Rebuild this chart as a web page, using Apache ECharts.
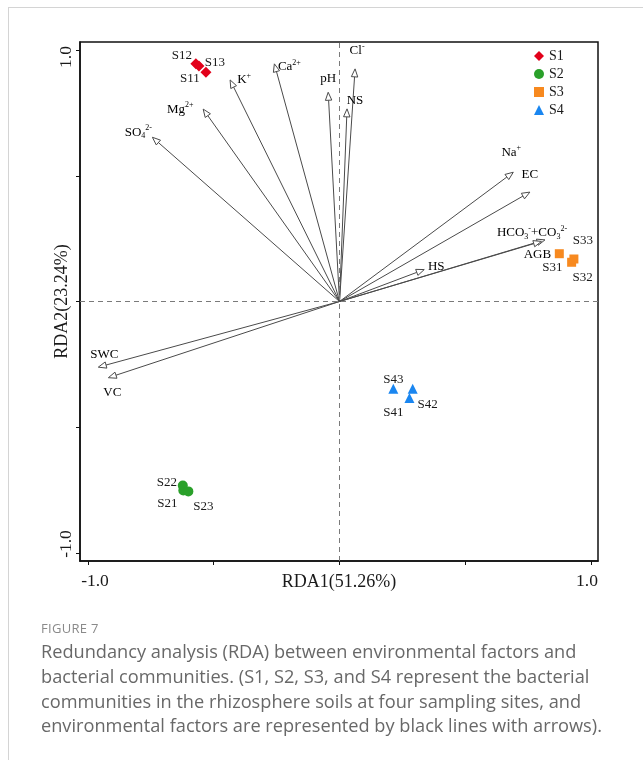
<!DOCTYPE html>
<html>
<head>
<meta charset="utf-8">
<script src="https://cdn.jsdelivr.net/npm/echarts@6/dist/echarts.min.js"></script>
<style>
  html, body { margin: 0; padding: 0; background: #fff; }
  #wrap { position: relative; width: 643px; height: 760px; overflow: hidden; }
  #frame { position: absolute; left: 8px; top: 7px; width: 700px; height: 800px;
           border-left: 1.5px solid #d4d4d4; border-top: 1.5px solid #d4d4d4; }
  #chart { position: absolute; left: 0; top: 0; width: 643px; height: 760px; }
  .cap { position: absolute; left: 41px; white-space: nowrap; font-family: "Open Sans", sans-serif; color: #686868; }
  #figno { top: 619px; font-size: 13px; letter-spacing: 0.3px; color: #8a8a8a; }
  .line { font-size: 18.2px; line-height: 25px; }
</style>
</head>
<body>
<div id="wrap">
  <div id="frame"></div>
  <div id="chart"></div>
  <div class="cap" id="figno">FIGURE 7</div>
  <div class="cap line" style="top:639px">Redundancy analysis (RDA) between environmental factors and</div>
  <div class="cap line" style="top:664px">bacterial communities. (S1, S2, S3, and S4 represent the bacterial</div>
  <div class="cap line" style="top:689px">communities in the rhizosphere soils at four sampling sites, and</div>
  <div class="cap line" style="top:713px">environmental factors are represented by black lines with arrows).</div>
</div>
<script>
// ---------------- DATA ----------------
const envNames = ['SO4 2-', 'Mg 2+', 'K+', 'Ca 2+', 'pH', 'Cl-', 'NS', 'Na+', 'EC', 'HCO3- + CO3 2-', 'AGB', 'HS', 'SWC', 'VC'];
const envRDA1 = [-0.744, -0.542, -0.435, -0.259, -0.045, 0.062, 0.030, 0.691, 0.757, 0.817, 0.803, 0.337, -0.959, -0.919];
const envRDA2 = [0.653, 0.765, 0.881, 0.945, 0.832, 0.925, 0.766, 0.514, 0.435, 0.245, 0.239, 0.127, -0.261, -0.303];

const siteNames = ['S1', 'S2', 'S3', 'S4'];
const sampleNames = [
  ['S11', 'S12', 'S13'],
  ['S21', 'S22', 'S23'],
  ['S31', 'S32', 'S33'],
  ['S41', 'S42', 'S43']
];
const sampleRDA1 = [
  [-0.531, -0.571, -0.559],
  [-0.621, -0.623, -0.601],
  [0.874, 0.923, 0.932],
  [0.278, 0.291, 0.214]
];
const sampleRDA2 = [
  [0.912, 0.945, 0.936],
  [-0.751, -0.732, -0.755],
  [0.190, 0.156, 0.169],
  [-0.384, -0.347, -0.347]
];
const xTicks = [-1, -0.5, 0, 0.5, 1];
const yTicks = [-1, -0.5, 0, 0.5, 1];
const xTickLabels = [-1, 1];
const yTickLabels = [-1, 1];
const xAxisName = 'RDA1(51.26%)';
const yAxisName = 'RDA2(23.24%)';

// ---------------- STYLE ----------------
const SERIF = '"Liberation Serif", "Times New Roman", serif';
const richMarkup = {
  'SO4 2-': '{b|SO}{sub|4}{sup|2-}',
  'Mg 2+': '{b|Mg}{sup|2+}',
  'K+': '{b|K}{sup|+}',
  'Ca 2+': '{b|Ca}{sup|2+}',
  'pH': '{b|pH}',
  'Cl-': '{b|Cl}{sup|-}',
  'NS': '{b|NS}',
  'Na+': '{b|Na}{sup|+}',
  'EC': '{b|EC}',
  'HCO3- + CO3 2-': '{b|HCO}{sub|3}{sup|-}{b|+CO}{sub|3}{sup|2-}',
  'AGB': '{b|AGB}',
  'HS': '{b|HS}',
  'SWC': '{b|SWC}',
  'VC': '{b|VC}'
};
const envLabelOffset = {
  'SO4 2-': [-14, -5], 'Mg 2+': [-23, 0], 'K+': [14, 0], 'Ca 2+': [15, 3],
  'pH': [0, -14], 'Cl-': [2, -18], 'NS': [8, -8], 'Na+': [-2, -20], 'EC': [0, -18],
  'HCO3- + CO3 2-': [-13, -7], 'AGB': [-4, 13], 'HS': [12, -3], 'SWC': [6, -13], 'VC': [4, 15]
};
const sampleLabelOffset = {
  S11: [-16, 6], S12: [-14, -8], S13: [16, -4],
  S21: [-16, 13], S22: [-16, -3], S23: [15, 15],
  S31: [-7, 14], S32: [11, 15], S33: [9, -18],
  S41: [-16, 15], S42: [15, 16], S43: [0, -9]
};
const siteColors = ['#e2001a', '#2aa02a', '#f7891f', '#1a86f0'];
const siteSymbols = ['diamond', 'circle', 'rect', 'triangle'];
const siteSymbolSize = [11, 10, 9, 10];
const richStyles = {
  b: { fontFamily: SERIF, fontSize: 13, color: '#1a1a1a', lineHeight: 16 },
  sup: { fontFamily: SERIF, fontSize: 8, color: '#1a1a1a', verticalAlign: 'top' },
  sub: { fontFamily: SERIF, fontSize: 8, color: '#1a1a1a', verticalAlign: 'bottom' }
};
const tickFont = { fontFamily: SERIF, fontSize: 17.5, color: '#1a1a1a' };
const xTickRich = {
  lo: Object.assign({ padding: [0, 0, 0, 14] }, tickFont),
  hi: Object.assign({ padding: [0, 8, 0, 0] }, tickFont)
};
const yTickRich = {
  lo: Object.assign({ padding: [0, 0, 0, 18] }, tickFont),
  hi: Object.assign({ padding: [0, 14, 0, 0] }, tickFont)
};

// ---------------- CHART ----------------
const chart = echarts.init(document.getElementById('chart'), null, { renderer: 'canvas' });

const arrowData = envNames.map((n, i) => ({ name: n, value: [envRDA1[i], envRDA2[i]] }));

const arrowSeries = {
  type: 'custom',
  name: 'env',
  coordinateSystem: 'cartesian2d',
  z: 3,
  silent: true,
  data: arrowData,
  renderItem: function (params, api) {
    const name = envNames[params.dataIndex];
    const o = api.coord([0, 0]);
    const t = api.coord([api.value(0), api.value(1)]);
    const dx = t[0] - o[0], dy = t[1] - o[1];
    const len = Math.sqrt(dx * dx + dy * dy);
    const ux = dx / len, uy = dy / len;
    const L = 8, W = 3.2;
    const bx = t[0] - ux * L, by = t[1] - uy * L;
    const px = -uy, py = ux;
    const off = envLabelOffset[name];
    return {
      type: 'group',
      children: [
        { type: 'line', shape: { x1: o[0], y1: o[1], x2: bx, y2: by },
          style: { stroke: '#4a4a4a', lineWidth: 1 } },
        { type: 'polygon', shape: { points: [[t[0], t[1]], [bx + px * W, by + py * W], [bx - px * W, by - py * W]] },
          style: { fill: '#fff', stroke: '#4a4a4a', lineWidth: 1 } },
        { type: 'text', x: t[0] + off[0], y: t[1] + off[1],
          style: { text: richMarkup[name], rich: richStyles, align: 'center', verticalAlign: 'middle' } }
      ]
    };
  }
};

const sampleSeries = siteNames.map((site, s) => ({
  type: 'scatter',
  name: site,
  symbol: siteSymbols[s],
  symbolSize: siteSymbolSize[s],
  itemStyle: { color: siteColors[s], opacity: 1 },
  z: 4,
  label: {
    show: true, position: 'inside', formatter: '{b}',
    fontFamily: SERIF, fontSize: 13, color: '#1a1a1a'
  },
  labelLayout: function (p) {
    const off = sampleLabelOffset[sampleNames[s][p.dataIndex]];
    return { dx: off[0], dy: off[1], hideOverlap: false };
  },
  data: sampleNames[s].map((n, k) => ({
    name: n,
    value: [sampleRDA1[s][k], sampleRDA2[s][k]]
  }))
}));

const refLines = {
  type: 'line', name: 'ref', data: [], z: 1, silent: true,
  markLine: {
    silent: true, symbol: ['none', 'none'], label: { show: false },
    lineStyle: { type: [5, 4], color: '#7a7a7a', width: 1 },
    emphasis: { disabled: true },
    data: [{ xAxis: 0 }, { yAxis: 0 }]
  }
};

const u = 251.5;
chart.setOption({
  animation: false,
  backgroundColor: 'transparent',
  grid: { left: 80, top: 42, right: 45, bottom: 199, show: true, borderColor: '#111', borderWidth: 1.5, backgroundColor: 'transparent' },
  legend: {
    orient: 'vertical', left: 529, top: 44, itemWidth: 10, itemHeight: 10, itemGap: 4,
    data: siteNames,
    textStyle: { fontFamily: SERIF, fontSize: 14, color: '#1a1a1a', lineHeight: 14 }
  },
  xAxis: {
    type: 'value', min: -1 - 8 / u, max: 1 + 7 / u,
    splitLine: { show: false },
    axisLine: { show: true, onZero: false, lineStyle: { color: '#111', width: 1.5 } },
    axisTick: { show: true, length: 4, customValues: xTicks, lineStyle: { color: '#111', width: 1 } },
    axisLabel: { customValues: xTickLabels, margin: 11,
      formatter: v => (v < 0 ? '{lo|' : '{hi|') + v.toFixed(1) + '}',
      rich: xTickRich, fontFamily: SERIF, fontSize: 17.5, color: '#1a1a1a' },
    name: xAxisName, nameLocation: 'middle', nameGap: 12, nameMoveOverlap: false,
    nameTextStyle: { fontFamily: SERIF, fontSize: 18, color: '#1a1a1a' }
  },
  yAxis: {
    type: 'value', min: -1 - 8 / u, max: 1 + 8 / u,
    splitLine: { show: false },
    axisLine: { show: true, onZero: false, lineStyle: { color: '#111', width: 1.5 } },
    axisTick: { show: true, length: 4, customValues: yTicks, lineStyle: { color: '#111', width: 1 } },
    axisLabel: { customValues: yTickLabels, margin: 5, rotate: 90,
      formatter: v => (v < 0 ? '{lo|' : '{hi|') + v.toFixed(1) + '}',
      rich: yTickRich, fontFamily: SERIF, fontSize: 17.5, color: '#1a1a1a' },
    name: yAxisName, nameLocation: 'middle', nameGap: 9, nameRotate: 90, nameMoveOverlap: false,
    nameTextStyle: { fontFamily: SERIF, fontSize: 18, color: '#1a1a1a' }
  },
  series: [refLines, arrowSeries].concat(sampleSeries)
});
</script>
</body>
</html>
